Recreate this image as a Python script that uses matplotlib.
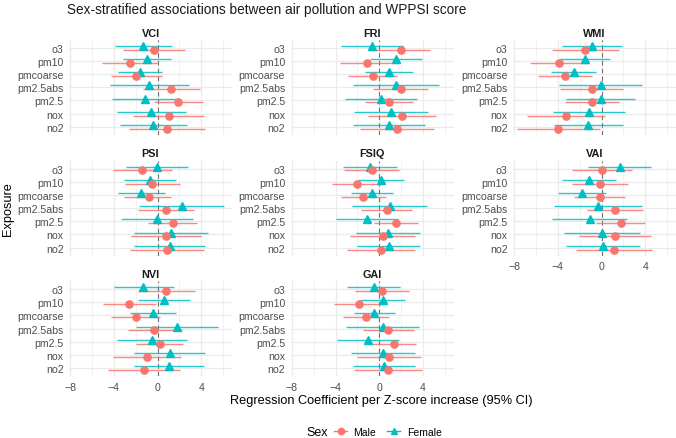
import matplotlib
matplotlib.use("Agg")
import matplotlib.pyplot as plt
from matplotlib.lines import Line2D
from matplotlib.ticker import MultipleLocator

plt.rcParams['font.family'] = ['Liberation Sans', 'DejaVu Sans']

exposures = ["o3", "pm10", "pmcoarse", "pm2.5abs", "pm2.5", "nox", "no2"]
outcomes = ["VCI", "FRI", "WMI", "PSI", "FSIQ", "VAI", "NVI", "GAI"]

# (estimate, lower, upper) per exposure, top to bottom
VCI_male   = [(-0.33, -3.17, 2.47), (-2.53, -5.07, 0.00), (-1.96, -4.25, 0.36), (1.24, -1.36, 3.83),
              (1.90, -0.30, 4.19), (1.00, -2.29, 4.28), (0.84, -2.62, 4.37)]
VCI_female = [(-1.30, -3.89, 1.33), (-0.97, -3.17, 1.24), (-1.63, -3.59, 0.36), (-0.75, -4.34, 2.90),
              (-1.15, -4.13, 1.90), (-0.63, -3.68, 2.56), (-0.45, -3.44, 2.65)]
FRI_male   = [(1.94, -0.73, 4.64), (-1.15, -3.61, 1.30), (-0.55, -2.85, 1.64), (1.94, -0.55, 4.42),
              (0.88, -1.27, 3.12), (2.09, -1.06, 5.21), (1.64, -1.73, 5.00)]
FRI_female = [(-0.67, -3.52, 2.18), (1.48, -0.88, 3.94), (0.88, -1.27, 3.12), (1.48, -2.42, 5.48),
              (0.12, -3.12, 3.45), (1.03, -2.33, 4.42), (0.88, -2.42, 4.21)]
WMI_male   = [(-1.52, -4.52, 1.55), (-3.88, -6.55, -1.15), (-3.36, -5.79, -0.88), (-0.91, -3.76, 1.97),
              (-0.88, -3.36, 1.61), (-3.27, -6.79, 0.27), (-3.97, -7.73, -0.18)]
WMI_female = [(-0.88, -3.60, 1.88), (-1.55, -3.82, 0.76), (-2.55, -4.60, -0.52), (-0.09, -3.88, 3.70),
              (-0.06, -3.27, 3.06), (-1.18, -4.45, 2.15), (-1.24, -4.36, 2.00)]
PSI_male   = [(-1.42, -4.07, 1.36), (-0.51, -3.02, 2.02), (-0.81, -3.08, 1.18), (0.78, -1.75, 3.35),
              (1.42, -0.84, 3.62), (0.78, -2.44, 4.01), (0.90, -2.56, 4.22)]
PSI_female = [(-0.09, -2.90, 2.75), (-0.72, -3.08, 1.69), (-1.51, -3.59, 0.69), (2.20, -1.69, 6.03),
              (-0.09, -3.38, 3.20), (1.24, -2.14, 4.62), (1.12, -2.20, 4.37)]
FSIQ_male   = [(-0.67, -3.21, 1.82), (-2.06, -4.33, 0.24), (-1.45, -3.52, 0.64), (0.67, -1.67, 3.00),
               (1.48, -0.48, 3.55), (0.30, -2.64, 3.24), (0.12, -2.97, 3.27)]
FSIQ_female = [(-0.85, -3.33, 1.64), (0.15, -1.94, 2.27), (-0.70, -2.61, 1.21), (0.94, -2.52, 4.36),
               (-1.15, -3.97, 1.70), (0.79, -2.15, 3.76), (0.88, -2.06, 3.76)]
VAI_male   = [(0.03, -2.73, 2.82), (-0.15, -2.73, 2.42), (-0.15, -2.48, 2.12), (1.21, -1.33, 3.79),
              (1.76, -0.48, 3.97), (1.24, -2.03, 4.52), (1.09, -2.36, 4.58)]
VAI_female = [(1.67, -1.24, 4.55), (-1.12, -3.60, 1.33), (-1.79, -4.00, 0.42), (-0.36, -4.36, 3.67),
              (-1.09, -4.52, 2.30), (0.00, -3.48, 3.48), (0.15, -3.24, 3.55)]
NVI_male   = [(0.78, -1.81, 3.44), (-2.62, -5.00, -0.18), (-2.02, -4.22, 0.18), (-0.30, -2.75, 2.20),
              (0.18, -1.93, 2.35), (-0.97, -4.07, 2.17), (-1.21, -4.52, 2.08)]
NVI_female = [(-1.30, -3.98, 1.48), (0.57, -1.75, 2.93), (-0.45, -2.56, 1.66), (1.75, -1.99, 5.55),
              (-0.54, -3.68, 2.68), (1.09, -2.20, 4.37), (1.03, -2.20, 4.22)]
GAI_male   = [(0.27, -2.21, 2.73), (-1.88, -4.18, 0.42), (-1.21, -3.33, 0.88), (0.79, -1.48, 3.15),
              (1.33, -0.70, 3.36), (0.85, -2.03, 3.79), (0.79, -2.33, 3.94)]
GAI_female = [(-0.52, -2.94, 1.91), (0.33, -1.76, 2.36), (-0.45, -2.30, 1.42), (0.30, -3.00, 3.61),
              (-1.03, -3.85, 1.79), (0.36, -2.61, 3.27), (0.42, -2.42, 3.27)]

male_data = {"VCI": VCI_male, "FRI": FRI_male, "WMI": WMI_male, "PSI": PSI_male,
             "FSIQ": FSIQ_male, "VAI": VAI_male, "NVI": NVI_male, "GAI": GAI_male}
female_data = {"VCI": VCI_female, "FRI": FRI_female, "WMI": WMI_female, "PSI": PSI_female,
               "FSIQ": FSIQ_female, "VAI": VAI_female, "NVI": NVI_female, "GAI": GAI_female}

MALE_C = "#F8766D"
FEMALE_C = "#00BFC4"
W, H = 676, 439
fig = plt.figure(figsize=(W / 100, H / 100), dpi=100)

col_left = [69, 290.7, 513]
row_top = [40.8, 161.6, 282]
pw, ph = 163, 95

n = len(exposures)
ypos = [n - 1 - i for i in range(n)]
dodge = 0.14

for k, name in enumerate(outcomes):
    r, c = divmod(k, 3)
    ax = fig.add_axes([col_left[c] / W, 1 - (row_top[r] + ph) / H, pw / W, ph / H])
    ax.set_xlim(-8.1, 6.8)
    ax.set_ylim(-0.6, n - 0.4)
    ax.xaxis.set_major_locator(MultipleLocator(4))
    ax.xaxis.set_minor_locator(MultipleLocator(2))
    ax.set_yticks(ypos)
    ax.set_yticklabels(exposures)
    ax.grid(True, which="major", color="#EBEBEB", linewidth=0.9)
    ax.grid(True, which="minor", axis="x", color="#EBEBEB", linewidth=0.45)
    ax.set_axisbelow(True)
    for s in ax.spines.values():
        s.set_visible(False)
    ax.tick_params(which="both", length=0, labelsize=7.6, labelcolor="#4D4D4D", pad=4)
    ax.axvline(0, color="#707070", linestyle=(0, (4, 3)), linewidth=0.8, zorder=1)
    for data, col, mk, off in [(female_data[name], FEMALE_C, "^", dodge),
                               (male_data[name], MALE_C, "o", -dodge)]:
        for yy, (est, lo, hi) in zip(ypos, data):
            ax.plot([lo, hi], [yy + off, yy + off], color=col, linewidth=1.0, alpha=0.85, zorder=2,
                    solid_capstyle="butt")
            ax.plot([est], [yy + off], marker=mk, color=col, markersize=5.2, linestyle="none", zorder=3)
    show_x = (r == 2) or (r == 1 and c == 2)
    if not show_x:
        ax.tick_params(axis="x", labelbottom=False)
    ax.set_title(name, fontsize=7.8, fontweight="bold", color="#1A1A1A", pad=3)

fig.text(67 / W, 1 - 10 / H, "Sex-stratified associations between air pollution and WPPSI score",
         fontsize=9.8, ha="left", va="center", color="#1A1A1A")
fig.text(381 / W, 1 - 401 / H, "Regression Coefficient per Z-score increase (95% CI)",
         fontsize=9.2, ha="center", va="center", color="black")
fig.text(8 / W, 1 - 209 / H, "Exposure", fontsize=9.2, rotation=90, ha="center", va="center")

fig.text(306 / W, 1 - 433 / H, "Sex", fontsize=9, ha="left", va="center")
handles = [Line2D([0], [0], color=MALE_C, marker="o", markersize=4.5, linewidth=1.0, label="Male"),
           Line2D([0], [0], color=FEMALE_C, marker="^", markersize=4.5, linewidth=1.0, label="Female")]
fig.legend(handles=handles, loc="center left", bbox_to_anchor=(334 / W, 1 - 433 / H), ncol=2, frameon=False,
           fontsize=7.5, handlelength=1.25, handletextpad=0.6, columnspacing=1.1, borderpad=0.0,
           borderaxespad=0.0)

fig.savefig("out.png", dpi=100)
